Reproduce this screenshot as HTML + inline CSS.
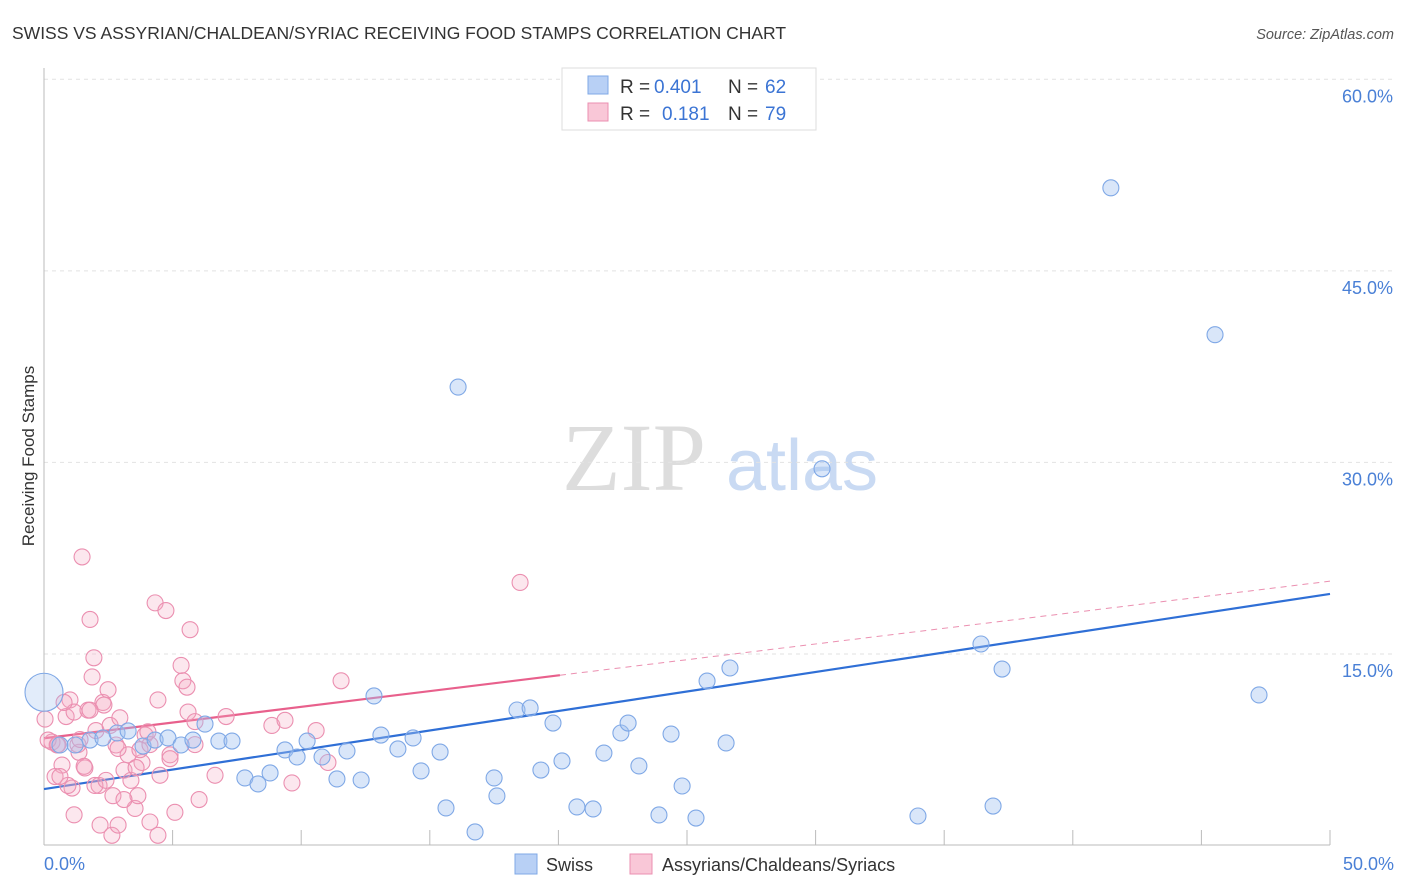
<!DOCTYPE html>
<html><head><meta charset="utf-8"><style>
body{margin:0;background:#fff;width:1406px;height:892px;overflow:hidden;font-family:"Liberation Sans",sans-serif}
</style></head><body>
<svg id="chart" width="1406" height="892" xmlns="http://www.w3.org/2000/svg" style="position:absolute;left:0;top:0">
<text x="12" y="39" font-size="17.5" fill="#333">SWISS VS ASSYRIAN/CHALDEAN/SYRIAC RECEIVING FOOD STAMPS CORRELATION CHART</text>
<text x="1394" y="39" font-size="14.5" fill="#555" text-anchor="end" font-style="italic">Source: ZipAtlas.com</text>
<text transform="translate(34,456) rotate(-90)" font-size="17" fill="#333" text-anchor="middle">Receiving Food Stamps</text>
<g>
<text x="634" y="490" font-size="96" fill="#ddd" text-anchor="middle" font-family="Liberation Serif,serif">ZIP</text>
<text x="802" y="490" font-size="72" fill="#c9daf3" text-anchor="middle">atlas</text>
</g>
<g id="grid"></g><g id="axes"></g><g id="trend"></g><g id="pts"></g>
<g>
<rect x="562" y="68" width="254" height="62" fill="#fff" stroke="#ddd"/>
<rect x="588" y="76" width="20" height="18" fill="#b8d0f5" stroke="#7fa8e6"/>
<rect x="588" y="103" width="20" height="18" fill="#f9c7d7" stroke="#eb8fb0"/>
<text y="93" font-size="19" fill="#333"><tspan x="620">R =</tspan><tspan x="654" fill="#3b74d4">0.401</tspan><tspan x="728">N =</tspan><tspan x="765" fill="#3b74d4">62</tspan></text>
<text y="120" font-size="19" fill="#333"><tspan x="620">R =</tspan><tspan x="662" fill="#3b74d4">0.181</tspan><tspan x="728">N =</tspan><tspan x="765" fill="#3b74d4">79</tspan></text>
</g>
<g>
<rect x="515" y="854" width="22" height="20" fill="#b8d0f5" stroke="#7fa8e6"/>
<text x="546" y="871" font-size="18" fill="#333">Swiss</text>
<rect x="630" y="854" width="22" height="20" fill="#f9c7d7" stroke="#eb8fb0"/>
<text x="662" y="871" font-size="18" fill="#333">Assyrians/Chaldeans/Syriacs</text>
</g>
</svg>
<script>
const yTicks=[15,30,45,60];
const yTickLabels=["15.0%","30.0%","45.0%","60.0%"];
const xLabels=["0.0%","50.0%"];
const swissX=[0,1.79,2.29,2.84,3.27,3.85,4.32,4.82,5.33,5.79,6.26,6.80,7.31,7.81,8.32,8.79,9.37,9.84,10.23,10.81,11.39,11.78,12.33,12.83,13.10,13.76,14.35,14.66,15.40,15.63,16.10,16.76,17.50,17.61,18.39,18.90,19.32,19.79,20.14,20.72,21.35,21.77,22.43,22.71,23.13,23.91,24.38,24.81,25.35,25.78,26.52,26.67,30.25,33.98,36.43,36.90,37.25,41.48,45.53,47.24,0.62,1.21];
const swissY=[12.0,8.26,8.42,8.81,8.97,7.79,8.26,8.42,7.87,8.26,9.51,8.18,8.18,5.29,4.82,5.68,7.48,6.93,8.18,6.93,5.21,7.40,5.13,11.71,8.65,7.56,8.42,5.84,7.32,2.94,35.9,1.06,5.29,3.88,10.61,10.77,5.91,9.59,6.62,3.02,2.86,7.24,8.81,9.59,6.23,2.39,8.73,4.66,2.15,12.88,8.03,13.90,29.5,2.31,15.78,3.09,13.82,51.5,40.0,11.79,7.87,7.87];
const asyX=[0.31,0.51,0.70,0.86,1.01,1.17,1.36,1.48,1.59,1.71,1.79,1.87,1.94,2.02,2.14,2.29,2.49,2.57,2.68,2.80,2.95,3.11,3.27,3.38,3.54,3.65,3.81,3.93,4.12,4.32,4.43,4.51,4.74,4.90,5.09,5.33,5.40,5.56,5.68,5.60,5.87,6.03,6.65,7.08,8.86,9.37,9.64,10.58,11.04,11.55,18.51,0.16,0.43,0.78,1.09,1.32,1.56,2.18,2.64,2.88,3.58,4.04,4.43,0.04,0.54,0.93,1.40,2.33,3.11,3.73,0.62,1.17,1.79,1.98,2.41,4.12,4.90,5.87,2.88];
const asyY=[8.1,7.87,6.3,10.1,11.4,10.45,7.3,22.6,6.07,10.6,17.7,13.2,14.7,9.0,4.7,11.2,12.2,9.4,3.9,7.87,10.0,5.9,7.1,5.1,2.9,3.9,6.5,8.65,1.84,19.0,11.4,5.5,18.4,7.1,2.6,14.1,12.9,12.4,16.9,10.45,9.7,3.6,5.5,10.1,9.4,9.8,4.9,9.0,6.5,12.9,20.6,8.26,5.4,11.2,4.5,7.9,6.2,1.6,0.8,1.6,6.1,8.9,0.8,9.9,7.9,4.7,8.3,11.0,3.6,7.5,5.4,2.4,10.6,4.7,5.1,7.9,6.8,7.9,7.6];
const swissTrend=[4.42,19.7];
const asyTrend=[8.4,20.7];
const asySolidEnd=20.06;
const X=v=>44+v*25.72, Y=v=>845.5-v*12.77;
const NS="http://www.w3.org/2000/svg";
function mk(p,t,a){const e=document.createElementNS(NS,t);for(const k in a)e.setAttribute(k,a[k]);p.appendChild(e);return e;}
const grid=document.getElementById('grid'),axes=document.getElementById('axes');
yTicks.forEach((t,i)=>{
 const l=mk(grid,'line',{x1:44,x2:1394,y1:Y(t),y2:Y(t),stroke:'#e2e2e2','stroke-dasharray':'4,4'});
 
 
 const tx=mk(axes,'text',{x:1393,y:Y(t)+23,'font-size':18,fill:'#4a80d6','text-anchor':'end'});
 tx.textContent=yTickLabels[i];
 
 
});
const ax=mk(axes,'line',{x1:44,x2:1330,y1:845,y2:845,stroke:'#bbb'});


const ay=mk(axes,'line',{x1:44,x2:44,y1:68,y2:845,stroke:'#bbb'});


for(let i=0;i<=10;i++){const t=mk(axes,'line',{x1:X(i*5),x2:X(i*5),y1:830,y2:845,stroke:'#bbb'});
 
 }
[[0,'start',44],[50,'end',1394]].forEach((d,i)=>{const t=mk(axes,'text',{x:d[2],y:870,'font-size':18,fill:'#4a80d6','text-anchor':d[1]});t.textContent=xLabels[i];
 
 });
const tr=document.getElementById('trend');
const sw=mk(tr,'line',{x1:X(0),y1:Y(swissTrend[0]),x2:X(50),y2:Y(swissTrend[1]),stroke:'#2f6fd6','stroke-width':2.2});


const ym=asyTrend[0]+(asyTrend[1]-asyTrend[0])*asySolidEnd/50;
const a1=mk(tr,'line',{x1:X(0),y1:Y(asyTrend[0]),x2:X(asySolidEnd),y2:Y(ym),stroke:'#e8608c','stroke-width':2.2});


const a2=mk(tr,'line',{x1:X(asySolidEnd),y1:Y(ym),x2:X(50),y2:Y(asyTrend[1]),stroke:'#eb8fb0','stroke-width':1,'stroke-dasharray':'6,5'});


const pts=document.getElementById('pts');
asyX.forEach((x,i)=>{const c=mk(pts,'circle',{cx:X(x),cy:Y(asyY[i]),r:8,fill:'rgba(245,170,195,0.28)',stroke:'#eb8fb0','stroke-width':1.1});
 
 });
swissX.forEach((x,i)=>{const c=mk(pts,'circle',{cx:X(x),cy:Y(swissY[i]),r:i==0?19:8,fill:i==0?'rgba(160,192,240,0.3)':'rgba(160,192,240,0.4)',stroke:'#7fa8e6','stroke-width':1.1});
 
 });
</script>
</body></html>
